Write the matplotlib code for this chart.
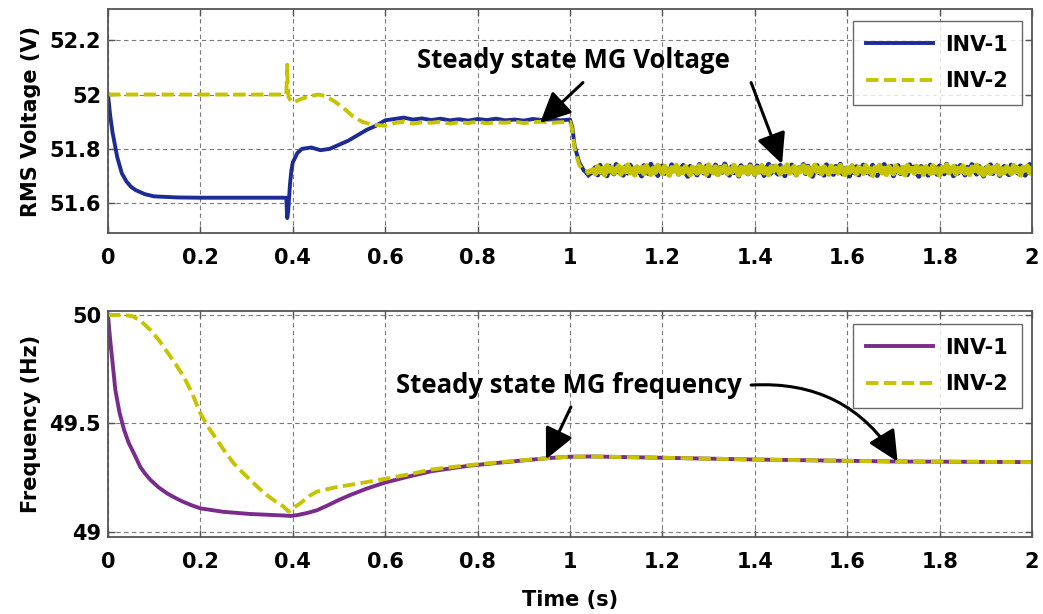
import matplotlib

matplotlib.use("Agg")

import matplotlib.pyplot as plt
import numpy as np

# ---- RMS voltage, transient part (t <= 1.04 s) ----
v1_t = [0, 0.005, 0.01, 0.02, 0.03, 0.04, 0.05, 0.06, 0.08, 0.1, 0.15, 0.2, 0.3, 0.386,
        0.388, 0.39, 0.392, 0.394, 0.397, 0.40, 0.41, 0.42, 0.44, 0.46, 0.48, 0.50, 0.52,
        0.54, 0.56, 0.58, 0.60, 0.62, 0.64, 0.66, 0.68, 0.70, 0.72, 0.74, 0.76, 0.78,
        0.80, 0.82, 0.84, 0.86, 0.88, 0.90, 0.92, 0.94, 0.96, 0.98, 1.0, 1.005, 1.01,
        1.02, 1.03, 1.04]
v1 = [52.0, 51.92, 51.86, 51.77, 51.71, 51.68, 51.66, 51.648, 51.633, 51.625, 51.621,
      51.62, 51.62, 51.62, 51.545, 51.57, 51.62, 51.67, 51.72, 51.75, 51.785, 51.80,
      51.805, 51.795, 51.80, 51.815, 51.83, 51.85, 51.87, 51.885, 51.905, 51.91, 51.915,
      51.908, 51.912, 51.906, 51.911, 51.905, 51.909, 51.904, 51.91, 51.906, 51.911,
      51.905, 51.908, 51.904, 51.91, 51.906, 51.909, 51.905, 51.908, 51.88, 51.81,
      51.75, 51.72, 51.705]

v2_t = [0, 0.386, 0.387, 0.388, 0.389, 0.391, 0.395, 0.40, 0.42, 0.44, 0.455, 0.47,
        0.49, 0.51, 0.53, 0.55, 0.57, 0.60, 0.62, 0.64, 0.66, 0.68, 0.70, 0.72, 0.74,
        0.76, 0.78, 0.80, 0.82, 0.84, 0.86, 0.88, 0.90, 0.92, 0.94, 0.96, 0.98, 1.0,
        1.005, 1.01, 1.02, 1.03, 1.04]
v2 = [52.0, 52.0, 52.06, 52.11, 52.04, 51.99, 51.98, 51.97, 51.985, 51.995, 52.0,
      51.995, 51.975, 51.95, 51.92, 51.9, 51.89, 51.885, 51.895, 51.9, 51.893, 51.898,
      51.896, 51.9, 51.893, 51.898, 51.895, 51.9, 51.894, 51.898, 51.896, 51.9, 51.895,
      51.898, 51.9, 51.896, 51.898, 51.9, 51.87, 51.80, 51.74, 51.72, 51.715]

# ---- RMS voltage, noisy steady state 1.05 .. 2.00 s (step 5 ms) ----
v1_noise = [
    51.718, 51.731, 51.704, 51.739, 51.712, 51.725, 51.701, 51.736, 51.720, 51.708,
    51.742, 51.715, 51.729, 51.703, 51.734, 51.711, 51.740, 51.722, 51.706, 51.733,
    51.717, 51.700, 51.738, 51.724, 51.709, 51.743, 51.714, 51.730, 51.702, 51.727,
    51.737, 51.710, 51.721, 51.705, 51.741, 51.719, 51.732, 51.707, 51.726, 51.739,
    51.713, 51.699, 51.735, 51.716, 51.728, 51.704, 51.742, 51.723, 51.711, 51.736,
    51.701, 51.729, 51.718, 51.740, 51.706, 51.731, 51.714, 51.744, 51.720, 51.703,
    51.734, 51.712, 51.727, 51.700, 51.738, 51.716, 51.730, 51.708, 51.741, 51.722,
    51.705, 51.737, 51.715, 51.732, 51.702, 51.726, 51.743, 51.710, 51.735, 51.719,
    51.707, 51.739, 51.724, 51.701, 51.733, 51.713, 51.740, 51.717, 51.704, 51.730,
    51.721, 51.742, 51.709, 51.736, 51.714, 51.699, 51.728, 51.738, 51.711, 51.725,
    51.703, 51.741, 51.718, 51.731, 51.706, 51.735, 51.720, 51.743, 51.708, 51.727,
    51.716, 51.700, 51.737, 51.712, 51.734, 51.704, 51.729, 51.740, 51.713, 51.723,
    51.707, 51.739, 51.719, 51.702, 51.732, 51.715, 51.742, 51.710, 51.726, 51.736,
    51.701, 51.724, 51.738, 51.709, 51.730, 51.717, 51.705, 51.741, 51.721, 51.733,
    51.712, 51.699, 51.735, 51.718, 51.728, 51.703, 51.740, 51.714, 51.731, 51.706,
    51.737, 51.722, 51.708, 51.743, 51.716, 51.727, 51.701, 51.734, 51.711, 51.739,
    51.719, 51.704, 51.732, 51.713, 51.742, 51.725, 51.707, 51.736, 51.717, 51.700,
    51.730, 51.715, 51.741, 51.709, 51.726, 51.738, 51.702, 51.723, 51.735, 51.712,
    51.705, 51.740, 51.720, 51.731, 51.710, 51.737, 51.716, 51.703, 51.729, 51.742,
    51.714]
v2_noise = [
    51.722, 51.709, 51.734, 51.715, 51.727, 51.705, 51.738, 51.719, 51.730, 51.711,
    51.724, 51.736, 51.707, 51.729, 51.716, 51.740, 51.712, 51.725, 51.704, 51.733,
    51.718, 51.731, 51.709, 51.737, 51.721, 51.706, 51.728, 51.714, 51.739, 51.723,
    51.710, 51.735, 51.717, 51.703, 51.730, 51.720, 51.738, 51.708, 51.726, 51.713,
    51.734, 51.719, 51.705, 51.732, 51.724, 51.711, 51.737, 51.716, 51.729, 51.707,
    51.740, 51.721, 51.712, 51.733, 51.706, 51.727, 51.718, 51.736, 51.709, 51.725,
    51.714, 51.739, 51.720, 51.704, 51.731, 51.715, 51.728, 51.710, 51.735, 51.722,
    51.707, 51.730, 51.717, 51.738, 51.712, 51.726, 51.705, 51.733, 51.719, 51.736,
    51.724, 51.708, 51.729, 51.716, 51.740, 51.711, 51.723, 51.734, 51.706, 51.727,
    51.718, 51.737, 51.713, 51.731, 51.704, 51.725, 51.739, 51.715, 51.729, 51.709,
    51.733, 51.720, 51.707, 51.736, 51.717, 51.728, 51.711, 51.738, 51.722, 51.705,
    51.730, 51.714, 51.735, 51.719, 51.708, 51.732, 51.724, 51.710, 51.737, 51.716,
    51.726, 51.703, 51.731, 51.721, 51.739, 51.712, 51.728, 51.706, 51.734, 51.718,
    51.709, 51.736, 51.723, 51.713, 51.730, 51.705, 51.738, 51.720, 51.727, 51.711,
    51.735, 51.716, 51.729, 51.707, 51.733, 51.722, 51.710, 51.737, 51.715, 51.726,
    51.704, 51.731, 51.719, 51.740, 51.712, 51.724, 51.734, 51.708, 51.728, 51.717,
    51.736, 51.711, 51.725, 51.706, 51.732, 51.721, 51.739, 51.714, 51.729, 51.705,
    51.723, 51.735, 51.710, 51.730, 51.718, 51.737, 51.707, 51.726, 51.713, 51.733,
    51.720, 51.709, 51.738, 51.716, 51.727, 51.704, 51.731, 51.722, 51.736, 51.712,
    51.725]
t_noise1 = np.linspace(1.05, 2.0, len(v1_noise))
t_noise2 = np.linspace(1.05, 2.0, len(v2_noise))

# ---- frequency ----
f1_t = [0, 0.005, 0.01, 0.016, 0.025, 0.035, 0.045, 0.056, 0.07, 0.08, 0.092, 0.11,
        0.128, 0.145, 0.16, 0.18, 0.2, 0.25, 0.308, 0.35, 0.38, 0.395, 0.41, 0.43, 0.452,
        0.475, 0.5, 0.524, 0.56, 0.6, 0.65, 0.7, 0.78, 0.85, 0.95, 1.0, 1.05, 1.2, 1.4,
        1.7, 2.0]
f1 = [50.0, 49.88, 49.78, 49.654, 49.55, 49.47, 49.41, 49.363, 49.30, 49.27, 49.24,
      49.205, 49.178, 49.158, 49.142, 49.124, 49.109, 49.093, 49.083, 49.079, 49.076,
      49.074, 49.078, 49.087, 49.10, 49.122, 49.148, 49.17, 49.2, 49.228, 49.255,
      49.28, 49.305, 49.32, 49.34, 49.347, 49.348, 49.342, 49.334, 49.325, 49.322]

f2_t = [0, 0.03, 0.052, 0.07, 0.092, 0.11, 0.128, 0.146, 0.164, 0.182, 0.2, 0.218,
        0.236, 0.254, 0.272, 0.29, 0.308, 0.326, 0.344, 0.362, 0.38, 0.391, 0.40, 0.416,
        0.435, 0.452, 0.49, 0.524, 0.56, 0.6, 0.65, 0.7, 0.78, 0.85, 0.95, 1.0, 1.05,
        1.2, 1.4, 1.7, 2.0]
f2 = [50.0, 50.0, 49.995, 49.975, 49.93, 49.885, 49.83, 49.775, 49.716, 49.64, 49.547,
      49.48, 49.424, 49.368, 49.317, 49.277, 49.24, 49.203, 49.17, 49.142, 49.117,
      49.094, 49.11, 49.132, 49.165, 49.186, 49.205, 49.217, 49.23, 49.245, 49.265,
      49.288, 49.308, 49.322, 49.34, 49.347, 49.348, 49.342, 49.334, 49.325, 49.322]

x_ticks = [0, 0.2, 0.4, 0.6, 0.8, 1, 1.2, 1.4, 1.6, 1.8, 2]
x_labels = ["0", "0.2", "0.4", "0.6", "0.8", "1", "1.2", "1.4", "1.6", "1.8", "2"]

BLUE = "#1c2c94"
YELLOW = "#c6c400"
PURPLE = "#7a2c8c"

plt.rcParams["font.family"] = ["DejaVu Sans"]
plt.rcParams["font.weight"] = "bold"

fig = plt.figure(figsize=(10.43, 6.14), dpi=100)
ax1 = fig.add_axes([0.1035, 0.6205, 0.886, 0.3648])
ax2 = fig.add_axes([0.1035, 0.1254, 0.886, 0.368])


def style_axes(ax):
    ax.set_xlim(0, 2)
    ax.set_xticks(x_ticks)
    ax.set_xticklabels(x_labels)
    ax.grid(True, linestyle=(0, (4, 3)), color="#7a7a7a", linewidth=0.8)
    ax.tick_params(direction="in", top=True, right=True, length=5, width=1,
                   labelsize=15, colors="#555555", labelcolor="black")
    ax.tick_params(axis="x", pad=11)
    ax.tick_params(axis="y", pad=5)
    for s in ax.spines.values():
        s.set_color("#555555")
        s.set_linewidth(1.3)
    for lab in ax.get_xticklabels() + ax.get_yticklabels():
        lab.set_fontweight("bold")


def add_legend(ax, anchor_y):
    leg = ax.legend(loc="upper right", bbox_to_anchor=(0.989, anchor_y), borderaxespad=0,
                    fontsize=15, frameon=True, fancybox=False, edgecolor="#444444",
                    handlelength=3.2, borderpad=0.65, labelspacing=0.8, handletextpad=0.6)
    leg.get_frame().set_linewidth(1.0)
    return leg


# top: RMS voltage
ax1.plot(v1_t, v1, color=BLUE, lw=2.8, label="INV-1")
ax1.plot(np.concatenate([v1_t[-1:], t_noise1]), np.concatenate([v1[-1:], v1_noise]),
         color=BLUE, lw=3.6)
ax1.plot(v2_t, v2, color=YELLOW, lw=2.8, dashes=(3.2, 1.4), label="INV-2")
# the noisy part of INV-2 reads as a solid band in the reference
ax1.plot(np.concatenate([v2_t[-1:], t_noise2]), np.concatenate([v2[-1:], v2_noise]),
         color=YELLOW, lw=4.0)
ax1.set_ylim(51.49, 52.315)
ax1.set_yticks([51.6, 51.8, 52, 52.2])
ax1.set_yticklabels(["51.6", "51.8", "52", "52.2"])
style_axes(ax1)
ax1.set_ylabel("RMS Voltage (V)", fontsize=15, fontweight="bold", labelpad=6)
add_legend(ax1, 0.946)

ann_font = dict(family=["Open Sans", "DejaVu Sans"], fontsize=18.5, fontweight="bold")
ax1.text(1.008, 52.126, "Steady state MG Voltage", ha="center", va="center", **ann_font)
arrow = dict(arrowstyle="-|>,head_length=1.25,head_width=0.6", color="black", lw=2.2,
             shrinkA=0, shrinkB=0, mutation_scale=15)
ax1.annotate("", xy=(0.935, 51.895), xytext=(1.028, 52.044), arrowprops=arrow)
ax1.annotate("", xy=(1.459, 51.744), xytext=(1.392, 52.044), arrowprops=arrow)

# bottom: frequency
ax2.plot(f1_t, f1, color=PURPLE, lw=2.8, label="INV-1")
ax2.plot(f2_t, f2, color=YELLOW, lw=2.8, dashes=(3.2, 1.4), label="INV-2")
ax2.set_ylim(48.977, 50.018)
ax2.set_yticks([49, 49.5, 50])
ax2.set_yticklabels(["49", "49.5", "50"])
style_axes(ax2)
ax2.set_ylabel("Frequency (Hz)", fontsize=15, fontweight="bold", labelpad=6)
ax2.set_xlabel("Time (s)", fontsize=15, fontweight="bold", labelpad=13)
add_legend(ax2, 0.942)

ax2.text(0.623, 49.677, "Steady state MG frequency", ha="left", va="center", **ann_font)
ax2.annotate("", xy=(0.948, 49.335), xytext=(1.002, 49.576), arrowprops=arrow)
arrow_c = dict(arrow, connectionstyle="arc3,rad=-0.3")
ax2.annotate("", xy=(1.709, 49.324), xytext=(1.392, 49.677), arrowprops=arrow_c)

fig.savefig("out.png", dpi=100)
